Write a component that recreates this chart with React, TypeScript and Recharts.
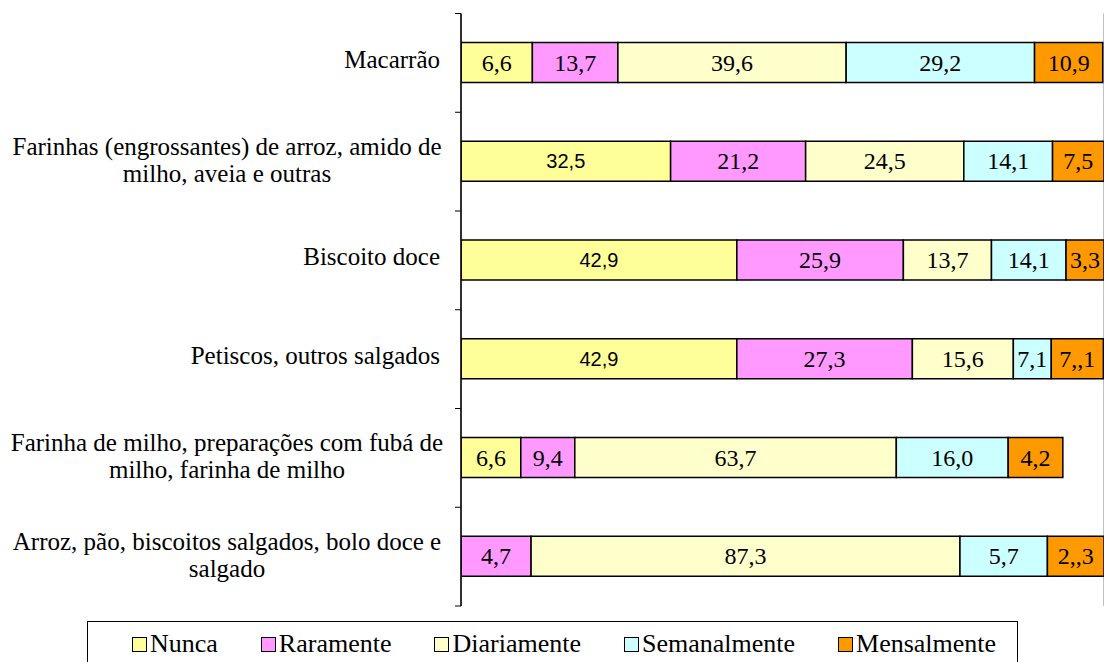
import { BarChart, Bar, XAxis, YAxis, CartesianGrid, LabelList } from "recharts";

// category labels, already wrapped the way the original shows them
const categoryLines: string[][] = [
  ["Macarrão"],
  ["Farinhas (engrossantes) de arroz, amido de", "milho, aveia e outras"],
  ["Biscoito doce"],
  ["Petiscos, outros salgados"],
  ["Farinha de milho, preparações com fubá de", "milho, farinha de milho"],
  ["Arroz, pão, biscoitos salgados, bolo doce e", "salgado"],
];
const categories = categoryLines.map((l) => l.join(" "));

// drawn segment lengths (% of axis)
const nunca = [11.1, 32.6, 42.9, 42.9, 9.3, 0];
const raramente = [13.3, 21.0, 25.9, 27.3, 8.4, 10.9];
const diariamente = [35.5, 24.6, 13.7, 15.7, 50.0, 66.7];
const semanalmente = [29.3, 13.8, 11.6, 5.9, 17.4, 13.6];
const mensalmente = [10.6, 8.0, 5.9, 8.1, 8.5, 8.8];

// printed labels (as written in the original, typos included)
const nuncaLabels = ["6,6", "32,5", "42,9", "42,9", "6,6", ""];
const raramenteLabels = ["13,7", "21,2", "25,9", "27,3", "9,4", "4,7"];
const diariamenteLabels = ["39,6", "24,5", "13,7", "15,6", "63,7", "87,3"];
const semanalmenteLabels = ["29,2", "14,1", "14,1", "7,1", "16,0", "5,7"];
const mensalmenteLabels = ["10,9", "7,5", "3,3", "7,,1", "4,2", "2,,3"];

const xTicks = [0, 20, 40, 60, 80, 100];

const series = [
  { key: "nunca", name: "Nunca", color: "#FFFF99", values: nunca, labels: nuncaLabels },
  { key: "raramente", name: "Raramente", color: "#FF99FF", values: raramente, labels: raramenteLabels },
  { key: "diariamente", name: "Diariamente", color: "#FFFFCC", values: diariamente, labels: diariamenteLabels },
  { key: "semanalmente", name: "Semanalmente", color: "#CCFFFF", values: semanalmente, labels: semanalmenteLabels },
  { key: "mensalmente", name: "Mensalmente", color: "#FF9900", values: mensalmente, labels: mensalmenteLabels },
];

// a few of the labels were set in a sans font in the source
const sansLabels = new Set(["nunca-1", "nunca-2", "nunca-3"]);

const data = categories.map((category, i) => {
  const row: Record<string, string | number> = { category };
  series.forEach((s) => {
    row[s.key] = s.values[i];
    row[s.key + "Label"] = s.labels[i];
  });
  return row;
});

const SERIF = "Liberation Serif";
const SANS = "Liberation Sans";

const CategoryTick = (props: any) => {
  const { y, payload, index } = props;
  const lines = categoryLines[index] || [payload.value];
  const band = 98.75;
  const tickMark = (
    <g>
      <line x1={455} x2={461} y1={y - band / 2} y2={y - band / 2} stroke="#000" />
      {index === categories.length - 1 && (
        <line x1={455} x2={461} y1={y + band / 2} y2={y + band / 2} stroke="#000" />
      )}
    </g>
  );
  if (lines.length === 1) {
    return (
      <g>
        {tickMark}
        <text x={440} y={y + 5} textAnchor="end" style={{ fontFamily: SERIF }} fontSize={25} fill="#000">
          {lines[0]}
        </text>
      </g>
    );
  }
  return (
    <g>
      {tickMark}
      <text x={227} y={y - 7} textAnchor="middle" style={{ fontFamily: SERIF }} fontSize={25} fill="#000">
        {lines.map((l, i) => (
          <tspan key={i} x={227} dy={i === 0 ? 0 : 27}>
            {l}
          </tspan>
        ))}
      </text>
    </g>
  );
};

const makeLabel = (seriesKey: string) => (props: any) => {
  const { x, y, width, height, value, index } = props;
  if (!value) return null;
  const sans = sansLabels.has(`${seriesKey}-${index}`);
  return (
    <text
      x={Number(x) + Number(width) / 2}
      y={Number(y) + Number(height) / 2 + (sans ? 7 : 8)}
      textAnchor="middle"
      style={{ fontFamily: sans ? SANS : SERIF }}
      fontSize={sans ? 20 : 24}
      fill="#000"
    >
      {value}
    </text>
  );
};

const Legend = () => (
  <div
    style={{
      position: "absolute",
      left: 87,
      top: 621,
      width: 931,
      height: 50,
      border: "1px solid #000",
      display: "flex",
      alignItems: "flex-start",
      paddingLeft: 44,
      paddingTop: 9,
      gap: 43,
      boxSizing: "border-box",
      fontFamily: SERIF,
      fontSize: 26,
      lineHeight: "26px",
      background: "#fff",
    }}
  >
    {series.map((s) => (
      <div key={s.key} style={{ display: "flex", alignItems: "center" }}>
        <span
          style={{
            display: "inline-block",
            width: 13,
            height: 13,
            background: s.color,
            border: "1px solid #000",
            marginRight: 3,
          }}
        />
        <span>{s.name}</span>
      </div>
    ))}
  </div>
);

export default function App() {
  return (
    <div style={{ position: "absolute", left: 0, top: 0, width: 1104, height: 662, background: "#fff", overflow: "hidden" }}>
      <BarChart
        width={1104}
        height={662}
        data={data}
        layout="vertical"
        margin={{ top: 13.5, right: 0, bottom: 56, left: 0 }}
        barSize={40}
      >
        <CartesianGrid horizontal={false} stroke="#808080" strokeWidth={1} />
        <XAxis
          type="number"
          domain={[0, 100]}
          ticks={xTicks}
          allowDataOverflow
          tick={false}
          tickLine={false}
          height={0}
          axisLine={{ stroke: "#808080", strokeWidth: 2 }}
        />
        <YAxis
          type="category"
          dataKey="category"
          width={461}
          tickLine={false}
          interval={0}
          axisLine={{ stroke: "#000", strokeWidth: 1.5 }}
          tick={<CategoryTick />}
        />
        {series.map((s) => (
          <Bar
            key={s.key}
            dataKey={s.key}
            stackId="a"
            fill={s.color}
            stroke="#000"
            strokeWidth={1.5}
            isAnimationActive={false}
          >
            <LabelList dataKey={s.key + "Label"} content={makeLabel(s.key)} />
          </Bar>
        ))}
      </BarChart>
      <Legend />
    </div>
  );
}
